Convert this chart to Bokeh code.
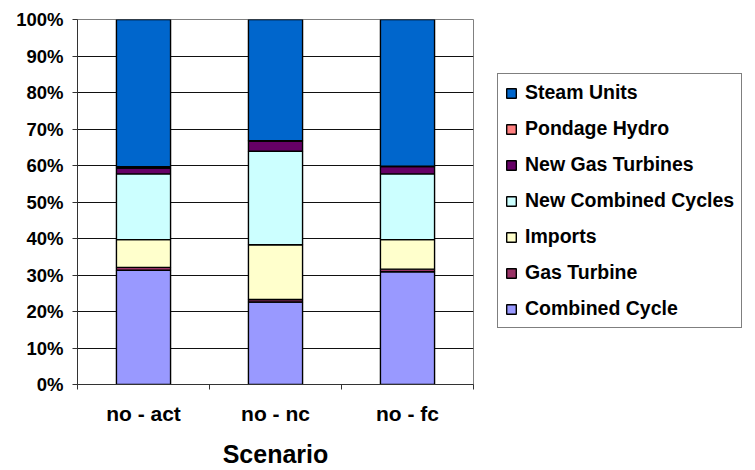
from bokeh.plotting import figure
from bokeh.layouts import row
from bokeh.models import (ColumnDataSource, Range1d, FixedTicker, PrintfTickFormatter,
                          Legend, LegendItem)
from bokeh.embed import file_html
from bokeh.resources import INLINE

# ---- data (percent of total) ----
scenarios = ["no - act", "no - nc", "no - fc"]
x_pos = [0.5, 1.5, 2.5]
combined_cycle = [31.3, 22.6, 30.9]
gas_turbine = [0.8, 0.7, 0.7]
imports = [7.6, 15.0, 8.1]
new_combined_cycles = [18.0, 25.6, 18.0]
new_gas_turbines = [1.6, 2.8, 2.0]
pondage_hydro = [0.4, 0.1, 0.1]
steam_units = [40.3, 33.2, 40.2]

series_names = ["Combined Cycle", "Gas Turbine", "Imports", "New Combined Cycles",
                "New Gas Turbines", "Pondage Hydro", "Steam Units"]
series_colors = ["#9999FF", "#993366", "#FFFFCC", "#CCFFFF",
                 "#660066", "#FF8080", "#0066CC"]
y_ticks = list(range(0, 101, 10))

FONT = "Liberation Sans"

src = ColumnDataSource(dict(
    x=x_pos,
    cc=combined_cycle, gt=gas_turbine, imp=imports, ncc=new_combined_cycles,
    ngt=new_gas_turbines, ph=pondage_hydro, su=steam_units,
))
keys = ["cc", "gt", "imp", "ncc", "ngt", "ph", "su"]

p = figure(width=475, height=470, x_range=Range1d(0, 3), y_range=Range1d(0, 100),
           output_backend="svg", toolbar_location=None,
           min_border_left=77, min_border_right=2, min_border_top=19, min_border_bottom=86,
           background_fill_color="white", border_fill_color="white")

renderers = p.vbar_stack(keys, x="x", width=0.41, source=src,
                         fill_color=series_colors, line_color="black", line_width=1.4)

# grid & outline
p.xgrid.visible = False
p.ygrid.ticker = FixedTicker(ticks=y_ticks)
p.ygrid.grid_line_color = "#111111"
p.ygrid.grid_line_width = 1
p.outline_line_color = "#808080"
p.outline_line_width = 1

# y axis
p.yaxis.ticker = FixedTicker(ticks=y_ticks)
p.yaxis.formatter = PrintfTickFormatter(format="%d%%")
p.yaxis.major_label_text_font = FONT
p.yaxis.major_label_text_font_style = "bold"
p.yaxis.major_label_text_font_size = "18.5px"
p.yaxis.major_label_text_color = "black"
p.yaxis.major_label_standoff = 9
p.yaxis.major_tick_out = 5
p.yaxis.major_tick_in = 0
p.yaxis.minor_tick_line_color = None
p.yaxis.axis_line_color = "#333333"
p.yaxis.major_tick_line_color = "#333333"

# x axis
p.xaxis.ticker = FixedTicker(ticks=x_pos, minor_ticks=[0, 1, 2, 3])
p.xaxis.major_label_overrides = {x_pos[i]: scenarios[i] for i in range(3)}
p.xaxis.major_tick_out = 0
p.xaxis.major_tick_in = 0
p.xaxis.minor_tick_out = 5
p.xaxis.minor_tick_in = 0
p.xaxis.minor_tick_line_color = "#333333"
p.xaxis.axis_line_color = "#333333"
p.xaxis.major_label_text_font = FONT
p.xaxis.major_label_text_font_style = "bold"
p.xaxis.major_label_text_font_size = "21px"
p.xaxis.major_label_text_color = "black"
p.xaxis.major_label_standoff = 12
p.xaxis.axis_label = "Scenario"
p.xaxis.axis_label_text_font = FONT
p.xaxis.axis_label_text_font_style = "bold"
p.xaxis.axis_label_text_font_size = "25px"
p.xaxis.axis_label_text_color = "black"
p.xaxis.axis_label_standoff = 12

# ---- legend panel (separate figure to the right, no axes) ----
lg = figure(width=280, height=470, x_range=Range1d(0, 1), y_range=Range1d(0, 1),
            x_axis_location=None, y_axis_location=None,
            output_backend="svg", toolbar_location=None,
            min_border_left=0, min_border_right=0, min_border_top=0, min_border_bottom=0,
            background_fill_color="white", border_fill_color="white")
lg.grid.visible = False
lg.outline_line_color = None

legend_renderers = lg.vbar_stack(keys, x="x", width=0.41, source=src,
                                 fill_color=series_colors, line_color="black", line_width=1.4)
for r in legend_renderers:
    r.visible = False  # only used to supply legend swatches

items = [LegendItem(label=series_names[i], renderers=[legend_renderers[i]])
         for i in reversed(range(len(series_names)))]
legend = Legend(items=items, location=(22, 56))
legend.border_line_color = "black"
legend.border_line_width = 1
legend.background_fill_color = "white"
legend.background_fill_alpha = 1
legend.inactive_fill_alpha = 0
legend.padding = 7
legend.margin = 0
legend.spacing = 13
legend.label_height = 23
legend.glyph_height = 12
legend.glyph_width = 12
legend.label_standoff = 8
legend.label_text_font = FONT
legend.label_text_font_style = "bold"
legend.label_text_font_size = "19.5px"
legend.label_text_color = "black"
legend.label_text_baseline = "middle"
lg.add_layout(legend)

layout = row(p, lg)
open("out.html", "w").write(file_html(layout, INLINE))
